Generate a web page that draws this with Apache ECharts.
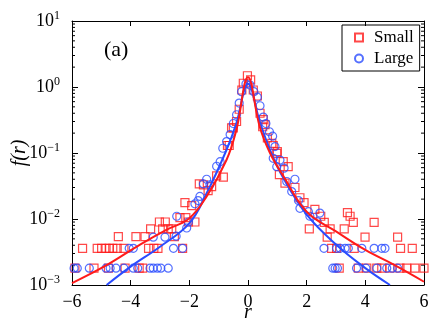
<!DOCTYPE html>
<html lang="en">
<head>
<meta charset="UTF-8">
<title>f(r)</title>
<script src="https://cdn.jsdelivr.net/npm/echarts@6/dist/echarts.min.js"></script>
</head>
<body style="margin:0">
<div id="main" style="width:436px;height:326px;"></div>
<script>
// red squares: "Small"
var smallX = [-5.9,-5.64,-5.14,-4.99,-4.84,-4.73,-4.61,-4.46,-4.23,-3.39,-3.21,-3.07,-2.23,
  -5.25,-4.76,-4.19,-3.71,-3.59,
  -4.42,-3.82,-3.51,-2.51,
  -3.32,-2.91,-2.72,-2.6,-3.02,-2.82,-2.03,-1.81,-2.32,-2.12,-2.15,-1.92,-1.66,-1.52,-1.36,-1.24,-1.07,-0.84,
  -0.7,-0.64,-0.56,-0.5,-0.39,-0.3,-0.21,-0.16,-0.02,0.09,
  0.18,0.32,0.41,0.5,0.52,0.58,0.66,0.81,0.86,0.98,1.0,1.2,1.37,1.07,1.26,1.6,1.77,1.91,2.28,2.48,2.6,2.09,2.7,
  3.39,3.48,3.59,4.3,3.28,2.8,3.99,5.1,2.85,3.02,3.62,5.2,5.6,
  3.11,3.76,4.05,4.39,4.56,4.84,5.18,5.41,5.69,6.0];
var smallY = [0.0018,0.0036,0.0036,0.0036,0.0036,0.0036,0.0036,0.0036,0.0036,0.0036,0.0036,0.0036,0.0036,
  0.0018,0.0018,0.0018,0.0018,0.0018,
  0.0054,0.0054,0.0054,0.0054,
  0.0071,0.0071,0.0071,0.0071,0.009,0.009,0.009,0.009,0.0105,0.0105,0.0177,0.016,0.034,0.033,0.027,0.031,0.045,0.043,
  0.13,0.13,0.24,0.24,0.30,0.46,0.9,1.14,1.48,1.28,
  0.9,0.73,0.40,0.25,0.32,0.27,0.17,0.14,0.13,0.099,0.105,0.074,0.062,0.047,0.035,0.030,0.021,0.0177,0.014,0.011,0.0089,0.0071,0.0053,
  0.0125,0.011,0.0089,0.0089,0.0071,0.0071,0.0053,0.0053,0.0036,0.0036,0.0036,0.0036,0.0036,
  0.0018,0.0018,0.0018,0.0018,0.0018,0.0018,0.0018,0.0018,0.0018,0.0018];

// blue circles: "Large"
var largeX = [-5.93,-5.82,-5.41,-4.84,-4.70,-4.5,-4.23,-3.91,-3.76,-3.34,-3.23,-3.09,-2.97,-2.72,
  -4.05,-3.91,-2.54,-2.23,
  -3.23,-2.83,-2.45,
  -2.43,-2.09,-2.03,-1.81,-1.7,-1.64,-1.52,-1.41,-1.3,-1.07,-0.95,-0.86,-0.73,-0.61,-0.5,-0.39,-0.3,-0.22,-0.07,
  0.07,0.2,0.32,0.41,0.52,0.61,0.73,0.84,0.92,1.09,0.86,0.98,1.23,1.32,1.6,1.49,1.72,1.77,2.06,2.11,2.45,2.36,
  2.59,3.02,3.14,3.31,3.42,3.88,4.3,4.56,4.67,
  2.89,2.97,3.05,3.7,4.02,4.39,4.73,4.92,5.1];
var largeY = [0.0018,0.0018,0.0018,0.0018,0.0018,0.0018,0.0018,0.0018,0.0018,0.0018,0.0018,0.0018,0.0018,0.0018,
  0.0036,0.0036,0.0036,0.0036,
  0.0053,0.0053,0.0055,
  0.011,0.0073,0.009,0.017,0.019,0.022,0.034,0.040,0.033,0.063,0.074,0.118,0.149,0.19,0.28,0.38,0.57,0.85,1.11,
  1.07,0.85,0.70,0.52,0.35,0.28,0.21,0.18,0.125,0.078,0.083,0.062,0.059,0.037,0.040,0.026,0.019,0.0145,0.0129,0.011,0.0123,0.0091,
  0.0036,0.0036,0.0036,0.0036,0.0036,0.0036,0.0036,0.0036,0.0036,
  0.0018,0.0018,0.0018,0.0018,0.0018,0.0018,0.0018,0.0018,0.0018];

// fitted curves
var fitSmallX = [-6,-4.82,-3.68,-2.8,-2.01,-1.41,-0.73,-0.4,0,0.4,0.75,1.2,2,3,4,5,6];
var fitSmallY = [0.00107,0.0020,0.0041,0.0068,0.0102,0.022,0.079,0.22,1.40,0.25,0.10,0.045,0.0129,0.0065,0.0034,0.0020,0.00112];
var fitLargeX = [-4.82,-4,-3,-2.01,-1.41,-0.73,-0.4,0,0.4,0.75,1.2,2.01,3,4,4.84];
var fitLargeY = [0.0010,0.0019,0.0038,0.0085,0.0245,0.112,0.28,1.12,0.30,0.112,0.042,0.0115,0.0041,0.0018,0.0010];

var minorVals = [];
[0.001,0.01,0.1,1].forEach(function (d) {
  for (var k = 2; k <= 9; k++) minorVals.push(d * k);
});

function zip(xs, ys) { return xs.map(function (x, i) { return [x, ys[i]]; }); }

var serif = '"Liberation Serif", "DejaVu Serif", serif';
var red = '#ff1a1a', blue = '#2a4cff';

function minus(v) { return String(v).replace('-', '\u2212'); }

var chart = echarts.init(document.getElementById('main'));
chart.setOption({
  backgroundColor: '#fff',
  animation: false,
  textStyle: { fontFamily: serif },
  grid: { left: 72, right: 12, top: 21, bottom: 41, outerBoundsMode: 'none', containLabel: false },
  legend: {
    data: ['Small', 'Large'],
    orient: 'vertical',
    left: 342, top: 25,
    borderColor: '#000', borderWidth: 1,
    padding: [3, 6, 3, 12],
    itemGap: 2, itemWidth: 8, itemHeight: 8,
    textStyle: { fontFamily: serif, fontSize: 17, color: '#000', padding: [0, 0, 0, 6], lineHeight: 19 }
  },
  graphic: [
    { type: 'text', left: 104, top: 39, style: { text: '(a)', font: '22px ' + serif, fill: '#000' } }
  ],
  xAxis: [{
    type: 'value', min: -6, max: 6, interval: 2,
    name: 'r', nameLocation: 'middle', nameGap: 18, nameMoveOverlap: false,
    nameTextStyle: { fontFamily: serif, fontSize: 20, fontStyle: 'italic', color: '#000' },
    axisLine: { onZero: false, lineStyle: { color: '#000', width: 1 } },
    axisTick: { inside: true, length: 5, lineStyle: { color: '#000' } },
    axisLabel: { fontFamily: serif, fontSize: 18, color: '#000', margin: 8, formatter: minus },
    splitLine: { show: false }
  }, {
    type: 'value', position: 'top', min: -6, max: 6, interval: 2,
    axisLine: { onZero: false, lineStyle: { color: '#000' } },
    axisTick: { inside: true, length: 5, lineStyle: { color: '#000' } },
    axisLabel: { show: false }, splitLine: { show: false }
  }],
  yAxis: [{
    type: 'log', logBase: 10, min: 0.001, max: 10,
    name: 'f(r)', nameLocation: 'middle', nameGap: 42, nameRotate: 90, nameMoveOverlap: false,
    nameTextStyle: { fontFamily: serif, fontSize: 20, fontStyle: 'italic', color: '#000' },
    axisLine: { show: true, onZero: false, lineStyle: { color: '#000' } },
    axisTick: { inside: true, length: 6, lineStyle: { color: '#000' } },
    axisLabel: {
      margin: 12, color: '#000',
      formatter: function (v) {
        var e = Math.round(Math.log10(v));
        return '{b|10}{e|' + minus(e) + '}';
      },
      rich: {
        b: { fontFamily: serif, fontSize: 18, color: '#000' },
        e: { fontFamily: serif, fontSize: 12, color: '#000', padding: [0, 0, 11, 0] }
      }
    },
    splitLine: { show: false }
  }, {
    type: 'log', logBase: 10, min: 0.001, max: 10, position: 'right',
    axisLine: { show: true, onZero: false, lineStyle: { color: '#000' } },
    axisTick: { inside: true, length: 6, lineStyle: { color: '#000' } },
    axisLabel: { show: false }, splitLine: { show: false }
  }],
  series: [
    {
      name: 'minor', type: 'custom', silent: true, clip: false, z: 1,
      data: minorVals.map(function (v) { return [-6, v]; }),
      renderItem: function (params, api) {
        var l = api.coord([-6, api.value(1)]);
        var r = api.coord([6, api.value(1)]);
        var st = { stroke: '#000', lineWidth: 1 };
        return { type: 'group', children: [
          { type: 'line', shape: { x1: l[0], y1: l[1], x2: l[0] + 3, y2: l[1] }, style: st },
          { type: 'line', shape: { x1: r[0], y1: r[1], x2: r[0] - 3, y2: r[1] }, style: st }
        ] };
      }
    },
    {
      name: 'Small', type: 'scatter', symbol: 'rect', symbolSize: 8, z: 3,
      itemStyle: { color: 'rgba(0,0,0,0)', borderColor: red, borderWidth: 1.2 },
      data: zip(smallX, smallY)
    },
    {
      name: 'Large', type: 'scatter', symbol: 'circle', symbolSize: 8, z: 3,
      itemStyle: { color: 'rgba(0,0,0,0)', borderColor: blue, borderWidth: 1.2 },
      data: zip(largeX, largeY)
    },
    {
      name: 'fitLarge', type: 'line', smooth: 0.4, symbol: 'none', z: 4,
      lineStyle: { color: blue, width: 2 },
      data: zip(fitLargeX, fitLargeY)
    },
    {
      name: 'fitSmall', type: 'line', smooth: 0.4, symbol: 'none', z: 5,
      lineStyle: { color: red, width: 2 },
      data: zip(fitSmallX, fitSmallY)
    }
  ]
});
</script>
</body>
</html>
